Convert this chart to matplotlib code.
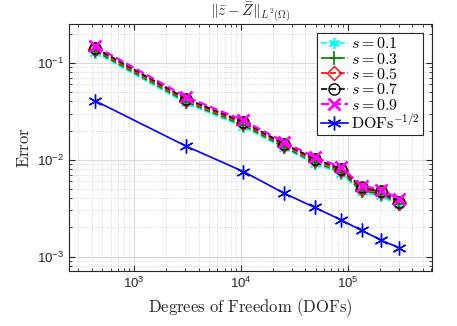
import matplotlib
matplotlib.use('Agg')
import matplotlib.pyplot as plt
from matplotlib.ticker import LogLocator, NullFormatter

plt.rcParams['mathtext.fontset'] = 'cm'
plt.rcParams['font.family'] = ['Liberation Sans', 'DejaVu Sans']

# degrees of freedom
dofs = [433, 3060, 10500, 25400, 49000, 86000, 134000, 206000, 300000]

# errors for each s
err_s01 = [0.128, 0.0384, 0.0219, 0.0131, 0.0091, 0.0072, 0.0046, 0.0042, 0.0034]
err_s03 = [0.133, 0.0397, 0.0227, 0.0135, 0.0094, 0.0075, 0.0048, 0.0044, 0.0035]
err_s05 = [0.139, 0.0415, 0.0237, 0.0141, 0.0099, 0.0078, 0.0050, 0.0046, 0.0036]
err_s07 = [0.143, 0.0428, 0.0245, 0.0146, 0.0102, 0.0081, 0.0052, 0.0047, 0.0037]
err_s09 = [0.149, 0.0446, 0.0255, 0.0152, 0.0106, 0.0084, 0.0054, 0.0049, 0.0039]
# reference rate DOFs^-1/2 (scaled)
ref_rate = [0.0405, 0.0138, 0.00755, 0.00449, 0.00321, 0.00239, 0.00186, 0.00147, 0.00123]

fig = plt.figure(figsize=(4.57, 3.26), dpi=100)
ax = fig.add_axes([0.151, 0.169, 0.794, 0.756])

ms = 8
lw = 1.2
ax.plot(dofs, err_s01, '--', color='cyan', marker=(6, 2, 0), ms=ms, mew=1.2, lw=lw, label=r'$s=0.1$')
ax.plot(dofs, err_s03, '--', color='#008000', marker='+', ms=ms + 2, mew=1.2, lw=lw, label=r'$s=0.3$')
ax.plot(dofs, err_s05, '--', color='red', marker='D', mfc='none', ms=ms - 1, mew=1.0, lw=lw, label=r'$s=0.5$')
ax.plot(dofs, err_s07, '--', color='black', marker='o', mfc='none', ms=ms, mew=1.0, lw=lw, label=r'$s=0.7$')
ax.plot(dofs, err_s09, '--', color='magenta', marker='x', ms=ms, mew=2.0, lw=lw + 0.4, label=r'$s=0.9$')
ax.plot(dofs, ref_rate, '-', color='blue', marker=(6, 2, 0), ms=ms + 2, mew=1.0, lw=lw, label=r'$\mathrm{DOFs}^{-1/2}$')

ax.set_xscale('log')
ax.set_yscale('log')
ax.set_xlim(245, 6.1e5)
ax.set_ylim(7.1e-4, 0.25)

ax.xaxis.set_major_locator(LogLocator(base=10, numticks=10))
ax.yaxis.set_major_locator(LogLocator(base=10, numticks=10))
ax.xaxis.set_minor_locator(LogLocator(base=10, subs=range(2, 10), numticks=20))
ax.yaxis.set_minor_locator(LogLocator(base=10, subs=range(2, 10), numticks=20))
ax.xaxis.set_minor_formatter(NullFormatter())
ax.yaxis.set_minor_formatter(NullFormatter())

ax.grid(True, which='major', color='#d9d9d9', lw=0.8, ls='-')
ax.grid(True, which='minor', color='#cccccc', lw=0.6, ls=':')
ax.set_axisbelow(True)

ax.tick_params(which='both', direction='in', top=True, right=True, color='#262626',
               labelsize=9.5, labelcolor='#262626')
ax.tick_params(which='major', length=4)
ax.tick_params(which='minor', length=2)
for sp in ax.spines.values():
    sp.set_color('#262626')
    sp.set_linewidth(0.8)

ax.set_xlabel(r'$\mathrm{Degrees\ of\ Freedom\ (DOFs)}$', fontsize=12, color='#262626')
ax.set_ylabel(r'$\mathrm{Error}$', fontsize=12, color='#262626')
ax.set_title(r'$\|\bar{z}-\bar{Z}\|_{L^2(\Omega)}$', fontsize=11, color='#262626', pad=4)

leg = ax.legend(loc='upper right', fontsize=11.5, fancybox=False, framealpha=1,
                edgecolor='#262626', borderpad=0.2, labelspacing=0.02,
                handlelength=1.7, handletextpad=0.2, borderaxespad=0.55)
leg.get_frame().set_linewidth(0.8)

fig.savefig('out.png', dpi=100)
